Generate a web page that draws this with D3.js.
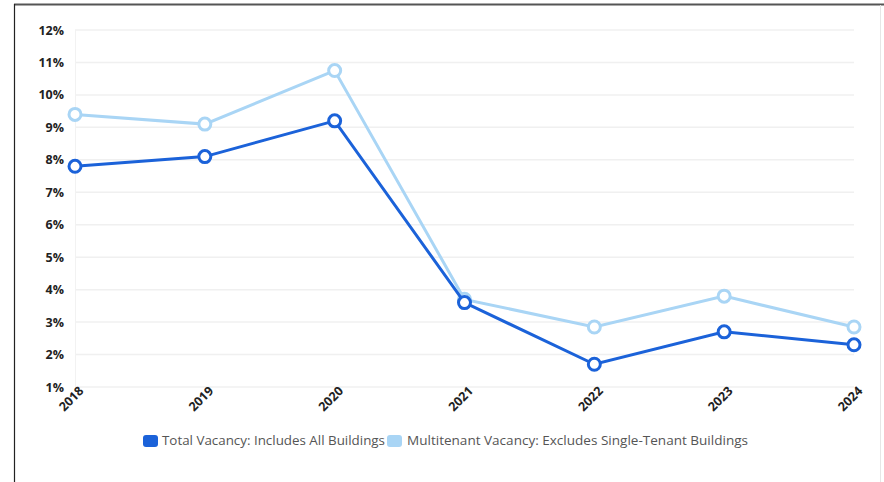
<!DOCTYPE html>
<html>
<head>
<meta charset="utf-8">
<script src="https://cdn.jsdelivr.net/npm/d3@7"></script>
<style>
  body { margin: 0; background: #fff; }
  text { font-family: "Open Sans", sans-serif; }
</style>
</head>
<body>
<svg width="884" height="482"></svg>
<script>
const years = ["2018", "2019", "2020", "2021", "2022", "2023", "2024"]
const totalVacancy = [7.8, 8.1, 9.2, 3.6, 1.7, 2.7, 2.3]
const multitenantVacancy = [9.4, 9.1, 10.75, 3.7, 2.85, 3.8, 2.85]
const yTicks = [1, 2, 3, 4, 5, 6, 7, 8, 9, 10, 11, 12]
const seriesNames = ["Total Vacancy: Includes All Buildings", "Multitenant Vacancy: Excludes Single-Tenant Buildings"]

const darkBlue = "#1b62d9"
const lightBlue = "#a9d5f5"

const svg = d3.select("svg")

// frame around the picture
svg.append("line").attr("x1", 14).attr("x2", 884).attr("y1", 4.5).attr("y2", 4.5)
  .attr("stroke", "#555").attr("stroke-width", 2)
svg.append("line").attr("x1", 14.5).attr("x2", 14.5).attr("y1", 4).attr("y2", 482)
  .attr("stroke", "#222").attr("stroke-width", 1.2)
svg.append("line").attr("x1", 880.5).attr("x2", 880.5).attr("y1", 5).attr("y2", 482)
  .attr("stroke", "#e6e6e6").attr("stroke-width", 1)

const scaleX = d3.scalePoint()
  .domain(years)
  .range([75, 854])

const scaleY = d3.scaleLinear()
  .domain([1, 12])
  .range([387, 30])

// gridlines
svg.append("g")
  .selectAll("line")
  .data(yTicks)
  .enter()
  .append("line")
  .attr("x1", 75)
  .attr("x2", 854)
  .attr("y1", d => scaleY(d))
  .attr("y2", d => scaleY(d))
  .attr("stroke", "#f0f0f0")
  .attr("stroke-width", 1.5)

svg.append("line")
  .attr("x1", 75.5).attr("x2", 75.5)
  .attr("y1", scaleY(12)).attr("y2", scaleY(1))
  .attr("stroke", "#f2f2f2")

// y axis
const yAxis = d3.axisLeft(scaleY)
  .tickValues(yTicks)
  .tickFormat(d => d + "%")
  .tickSize(0)
  .tickPadding(0)

svg.append("g")
  .attr("transform", "translate(64,0)")
  .call(yAxis)
  .call(g => g.select(".domain").remove())
  .selectAll("text")
  .attr("font-family", "Open Sans, sans-serif")
  .attr("font-size", 12.5)
  .attr("font-weight", "bold")
  .attr("fill", "#222")

// x axis
const xAxis = d3.axisBottom(scaleX).tickSize(0).tickPadding(0)

svg.append("g")
  .attr("transform", "translate(0," + 390 + ")")
  .call(xAxis)
  .call(g => g.select(".domain").remove())
  .selectAll("text")
  .attr("font-family", "Open Sans, sans-serif")
  .attr("font-size", 12.5)
  .attr("font-weight", "bold")
  .attr("fill", "#222")
  .attr("text-anchor", "end")
  .attr("dy", "0.6em")
  .attr("dx", "0.4em")
  .attr("y", 0)
  .attr("transform", "rotate(-45)")

const line = d3.line()
  .x((d, i) => scaleX(years[i]))
  .y(d => scaleY(d))

function drawSeries(values, color) {
  svg.append("path")
    .datum(values)
    .attr("d", line)
    .attr("fill", "none")
    .attr("stroke", color)
    .attr("stroke-width", 3)

  svg.append("g")
    .selectAll("circle")
    .data(values)
    .enter()
    .append("circle")
    .attr("cx", (d, i) => scaleX(years[i]))
    .attr("cy", d => scaleY(d))
    .attr("r", 6)
    .attr("fill", "#fff")
    .attr("stroke", color)
    .attr("stroke-width", 3)
}

drawSeries(multitenantVacancy, lightBlue)
drawSeries(totalVacancy, darkBlue)

// legend
const legend = svg.append("g").attr("transform", "translate(143,441)")

legend.append("rect")
  .attr("x", 0).attr("y", -6)
  .attr("width", 15).attr("height", 12)
  .attr("rx", 3)
  .attr("fill", darkBlue)

legend.append("text")
  .attr("x", 19).attr("y", 0)
  .attr("dy", "0.35em")
  .attr("font-size", 12)
  .attr("fill", "#555")
  .attr("textLength", 223)
  .attr("lengthAdjust", "spacingAndGlyphs")
  .text(seriesNames[0])

legend.append("rect")
  .attr("x", 244).attr("y", -6)
  .attr("width", 15).attr("height", 12)
  .attr("rx", 3)
  .attr("fill", lightBlue)

legend.append("text")
  .attr("x", 264).attr("y", 0)
  .attr("dy", "0.35em")
  .attr("font-size", 12)
  .attr("fill", "#555")
  .attr("textLength", 341)
  .attr("lengthAdjust", "spacingAndGlyphs")
  .text(seriesNames[1])
</script>
</body>
</html>
